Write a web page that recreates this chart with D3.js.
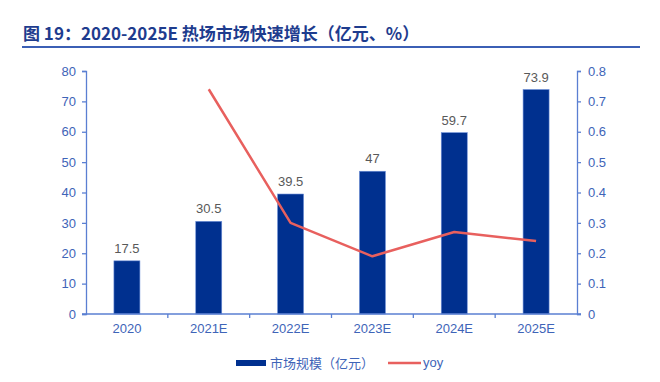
<!DOCTYPE html>
<html>
<head>
<meta charset="utf-8">
<script src="https://cdn.jsdelivr.net/npm/d3@7"></script>
<style>
  body { margin: 0; background: #fff; }
  svg { display: block; }
</style>
</head>
<body>
<svg width="660" height="382"></svg>
<script>
// data
var years = ["2020", "2021E", "2022E", "2023E", "2024E", "2025E"];
var marketSize = [17.5, 30.5, 39.5, 47, 59.7, 73.9];
var yoy = [null, 0.74, 0.30, 0.19, 0.27, 0.24];
var leftTicks = [0, 10, 20, 30, 40, 50, 60, 70, 80];
var rightTicks = [0, 0.1, 0.2, 0.3, 0.4, 0.5, 0.6, 0.7, 0.8];

var svg = d3.select("svg");
var axisColor = "#5a7fd2",
    labelColor = "#3e64b8",
    barColor = "#00308f",
    lineColor = "#e8605e";
var font = "'Liberation Sans', Arial, sans-serif";
var cjk = "'Noto Sans CJK SC', sans-serif";

// title
svg.append("text")
    .attr("x", 23).attr("y", 40)
    .attr("font-family", cjk)
    .attr("font-size", 17)
    .attr("font-weight", "bold")
    .attr("fill", "#1e3c8e")
    .text("图 19：2020-2025E 热场市场快速增长（亿元、%）");
svg.append("line")
    .attr("x1", 22).attr("x2", 640)
    .attr("y1", 47).attr("y2", 47)
    .attr("stroke", "#3b5fb5").attr("stroke-width", 2);

var plotLeft = 86, plotRight = 577, plotTop = 71, plotBottom = 314;

var x = d3.scaleBand().domain(years).range([plotLeft, plotRight]);
var y = d3.scaleLinear().domain([0, 80]).range([plotBottom, plotTop]);
var y2 = d3.scaleLinear().domain([0, 0.8]).range([plotBottom, plotTop]);

// bars
var barW = 26;
svg.selectAll("rect.bar")
    .data(marketSize)
    .enter().append("rect")
    .attr("class", "bar")
    .attr("x", function (d, i) { return x(years[i]) + x.bandwidth() / 2 - barW / 2; })
    .attr("y", function (d) { return y(d); })
    .attr("width", barW)
    .attr("height", function (d) { return plotBottom - y(d); })
    .attr("fill", barColor)
    .attr("stroke", "#6d8fd8")
    .attr("stroke-width", 0.6);

// bar labels
svg.selectAll("text.val")
    .data(marketSize)
    .enter().append("text")
    .attr("class", "val")
    .attr("x", function (d, i) { return x(years[i]) + x.bandwidth() / 2; })
    .attr("y", function (d) { return y(d) - 8; })
    .attr("text-anchor", "middle")
    .attr("font-family", font)
    .attr("font-size", 13)
    .attr("fill", "#595959")
    .text(function (d) { return d; });

// yoy line
var line = d3.line()
    .defined(function (d) { return d != null; })
    .x(function (d, i) { return x(years[i]) + x.bandwidth() / 2; })
    .y(function (d) { return y2(d); });
svg.append("path")
    .datum(yoy)
    .attr("d", line)
    .attr("fill", "none")
    .attr("stroke", lineColor)
    .attr("stroke-width", 2.5)
    .attr("stroke-linejoin", "round");

// axes
function styleAxis(g) {
    g.selectAll("path, line").attr("stroke", axisColor).attr("stroke-width", 1.3);
    g.selectAll("text")
        .attr("fill", labelColor)
        .attr("font-family", font)
        .attr("font-size", 13);
}

svg.append("g")
    .attr("transform", "translate(" + plotLeft + ",0)")
    .call(d3.axisLeft(y).tickValues(leftTicks).tickSize(4).tickSizeOuter(4).tickPadding(6))
    .call(styleAxis);

svg.append("g")
    .attr("transform", "translate(" + plotRight + ",0)")
    .call(d3.axisRight(y2).tickValues(rightTicks).tickSize(4).tickSizeOuter(4).tickPadding(7)
        .tickFormat(function (d) { return d3.format("")(+d.toFixed(1)); }))
    .call(styleAxis);

// x axis with ticks at band boundaries
var xa = svg.append("g").attr("transform", "translate(0," + plotBottom + ")");
xa.append("line")
    .attr("x1", plotLeft - 4).attr("x2", plotRight + 4)
    .attr("y1", 0).attr("y2", 0);
xa.selectAll("line.tick")
    .data(years.slice(1))
    .enter().append("line")
    .attr("class", "tick")
    .attr("x1", function (d) { return x(d); })
    .attr("x2", function (d) { return x(d); })
    .attr("y1", 0).attr("y2", 4);
xa.selectAll("text")
    .data(years)
    .enter().append("text")
    .attr("x", function (d) { return x(d) + x.bandwidth() / 2; })
    .attr("y", 19)
    .attr("text-anchor", "middle")
    .text(function (d) { return d; });
xa.call(styleAxis);

// legend
var lg = svg.append("g");
lg.append("rect")
    .attr("x", 236).attr("y", 360)
    .attr("width", 30).attr("height", 6)
    .attr("fill", barColor);
lg.append("text")
    .attr("x", 270).attr("y", 368)
    .attr("font-family", cjk)
    .attr("font-size", 13)
    .attr("fill", labelColor)
    .text("市场规模（亿元）");
lg.append("line")
    .attr("x1", 388).attr("x2", 421)
    .attr("y1", 363).attr("y2", 363)
    .attr("stroke", lineColor).attr("stroke-width", 2.5);
lg.append("text")
    .attr("x", 423).attr("y", 367)
    .attr("font-family", font)
    .attr("font-size", 13)
    .attr("fill", labelColor)
    .text("yoy");
</script>
</body>
</html>
